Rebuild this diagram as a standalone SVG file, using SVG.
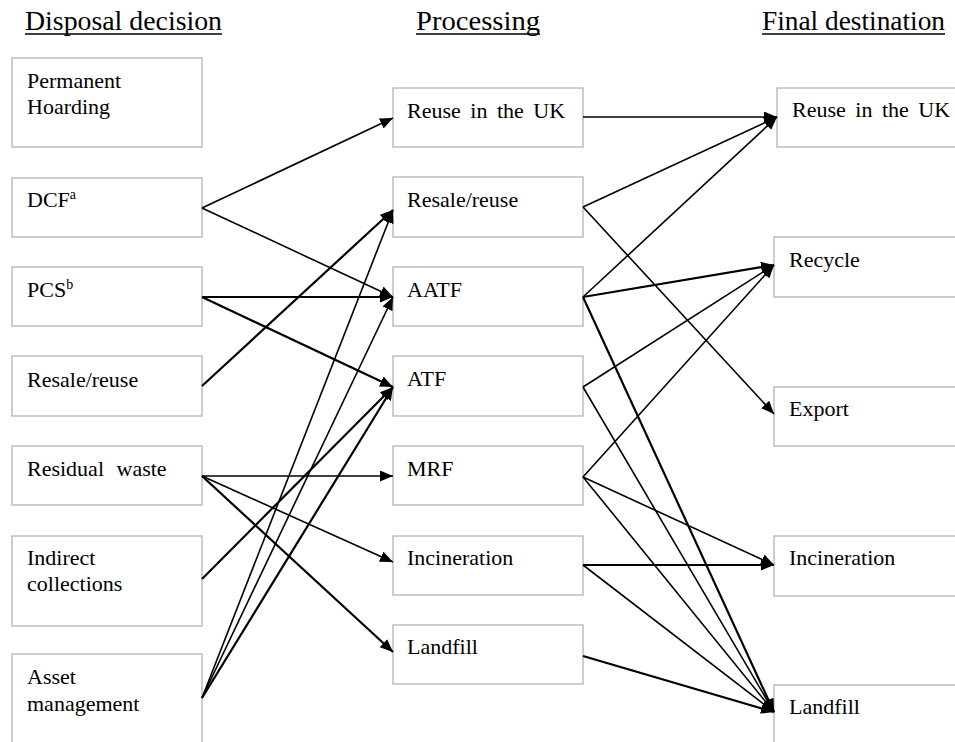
<svg xmlns="http://www.w3.org/2000/svg" width="955" height="742" viewBox="0 0 955 742">
<style>
  .box{fill:#ffffff;stroke:#bdbdbd;stroke-width:1.5}
  .t{font-size:22px;fill:#000}
  .h{font-size:27px;fill:#000}
  .ul{stroke:#000;stroke-width:1.3}
  .sup{font-size:14px}
  #connectors line{stroke:#000;stroke-width:1.6;fill:none;marker-end:url(#ah)}
  #connectors line.k{stroke-width:2.2}
</style>
<defs>
  <marker id="ah" markerUnits="userSpaceOnUse" markerWidth="14" markerHeight="12" refX="13" refY="5.5" orient="auto">
    <path d="M0,0 L13,5.5 L0,11 Z" fill="#000"/>
  </marker>
</defs>
<rect width="955" height="742" fill="#ffffff"/>

<g font-family="Liberation Serif, Times New Roman, serif">
<g id="headers">
  <text class="h" x="25" y="30" textLength="197" lengthAdjust="spacingAndGlyphs">Disposal decision</text>
  <line class="ul" x1="25" y1="34" x2="222" y2="34"/>
  <text class="h" x="416" y="30" textLength="124" lengthAdjust="spacingAndGlyphs">Processing</text>
  <line class="ul" x1="416" y1="34" x2="540" y2="34"/>
  <text class="h" x="762" y="30" textLength="183" lengthAdjust="spacingAndGlyphs">Final destination</text>
  <line class="ul" x1="762" y1="34" x2="945" y2="34"/>
</g>

<!-- Disposal decision column -->
<g id="d-hoarding"><rect class="box" x="12" y="58" width="190" height="89"/><text class="t" x="27" y="88">Permanent</text><text class="t" x="27" y="114">Hoarding</text></g>
<g id="d-dcf"><rect class="box" x="12" y="178" width="190" height="59"/><text class="t" x="27" y="207">DCF<tspan class="sup" dy="-8">a</tspan></text></g>
<g id="d-pcs"><rect class="box" x="12" y="267" width="190" height="59"/><text class="t" x="27" y="297">PCS<tspan class="sup" dy="-8">b</tspan></text></g>
<g id="d-resale"><rect class="box" x="12" y="356" width="190" height="60"/><text class="t" x="27" y="387">Resale/reuse</text></g>
<g id="d-residual"><rect class="box" x="12" y="446" width="190" height="59"/><text class="t" x="27" y="476" word-spacing="7">Residual waste</text></g>
<g id="d-indirect"><rect class="box" x="12" y="536" width="190" height="90"/><text class="t" x="27" y="565">Indirect</text><text class="t" x="27" y="591">collections</text></g>
<g id="d-asset"><rect class="box" x="12" y="654" width="190" height="100"/><text class="t" x="27" y="684">Asset</text><text class="t" x="27" y="711">management</text></g>

<!-- Processing column -->
<g id="p-reuse"><rect class="box" x="393" y="88" width="190" height="59"/><text class="t" x="407" y="118" word-spacing="4">Reuse in the UK</text></g>
<g id="p-resale"><rect class="box" x="393" y="177" width="190" height="60"/><text class="t" x="407" y="207">Resale/reuse</text></g>
<g id="p-aatf"><rect class="box" x="393" y="267" width="190" height="59"/><text class="t" x="407" y="297">AATF</text></g>
<g id="p-atf"><rect class="box" x="393" y="356" width="190" height="60"/><text class="t" x="407" y="386">ATF</text></g>
<g id="p-mrf"><rect class="box" x="393" y="446" width="190" height="59"/><text class="t" x="407" y="476">MRF</text></g>
<g id="p-incineration"><rect class="box" x="393" y="536" width="190" height="59"/><text class="t" x="407" y="565">Incineration</text></g>
<g id="p-landfill"><rect class="box" x="393" y="625" width="190" height="59"/><text class="t" x="407" y="654">Landfill</text></g>

<!-- Final destination column -->
<g id="f-reuse"><rect class="box" x="777" y="88" width="190" height="59"/><text class="t" x="792" y="117" word-spacing="4">Reuse in the UK</text></g>
<g id="f-recycle"><rect class="box" x="774" y="237" width="190" height="60"/><text class="t" x="789" y="267">Recycle</text></g>
<g id="f-export"><rect class="box" x="774" y="387" width="190" height="59"/><text class="t" x="789" y="416">Export</text></g>
<g id="f-incineration"><rect class="box" x="774" y="536" width="190" height="60"/><text class="t" x="789" y="565">Incineration</text></g>
<g id="f-landfill"><rect class="box" x="774" y="685" width="190" height="80"/><text class="t" x="789" y="714">Landfill</text></g>
</g>

<g id="connectors">
  <line x1="202" y1="208" x2="393" y2="118"/>
  <line x1="202" y1="208" x2="393" y2="297"/>
  <line class="k" x1="202" y1="297" x2="393" y2="297"/>
  <line class="k" x1="202" y1="297" x2="393" y2="387"/>
  <line class="k" x1="202" y1="386" x2="393" y2="210"/>
  <line x1="202" y1="476" x2="393" y2="476"/>
  <line x1="202" y1="476" x2="393" y2="562"/>
  <line class="k" x1="202" y1="476" x2="393" y2="652"/>
  <line class="k" x1="202" y1="579" x2="393" y2="387"/>
  <line x1="202" y1="698" x2="393" y2="210"/>
  <line x1="202" y1="698" x2="393" y2="297"/>
  <line class="k" x1="202" y1="698" x2="393" y2="387"/>

  <line x1="583" y1="117" x2="777" y2="117"/>
  <line x1="583" y1="207" x2="777" y2="117"/>
  <line x1="583" y1="207" x2="774" y2="414"/>
  <line x1="583" y1="297" x2="777" y2="117"/>
  <line class="k" x1="583" y1="297" x2="774" y2="265"/>
  <line class="k" x1="583" y1="297" x2="774" y2="712"/>
  <line x1="583" y1="387" x2="774" y2="265"/>
  <line x1="583" y1="387" x2="774" y2="712"/>
  <line x1="583" y1="477" x2="774" y2="265"/>
  <line x1="583" y1="477" x2="774" y2="565"/>
  <line x1="583" y1="477" x2="774" y2="712"/>
  <line class="k" x1="583" y1="565" x2="774" y2="565"/>
  <line x1="583" y1="565" x2="774" y2="712"/>
  <line class="k" x1="583" y1="656" x2="774" y2="712"/>
</g>
</svg>
